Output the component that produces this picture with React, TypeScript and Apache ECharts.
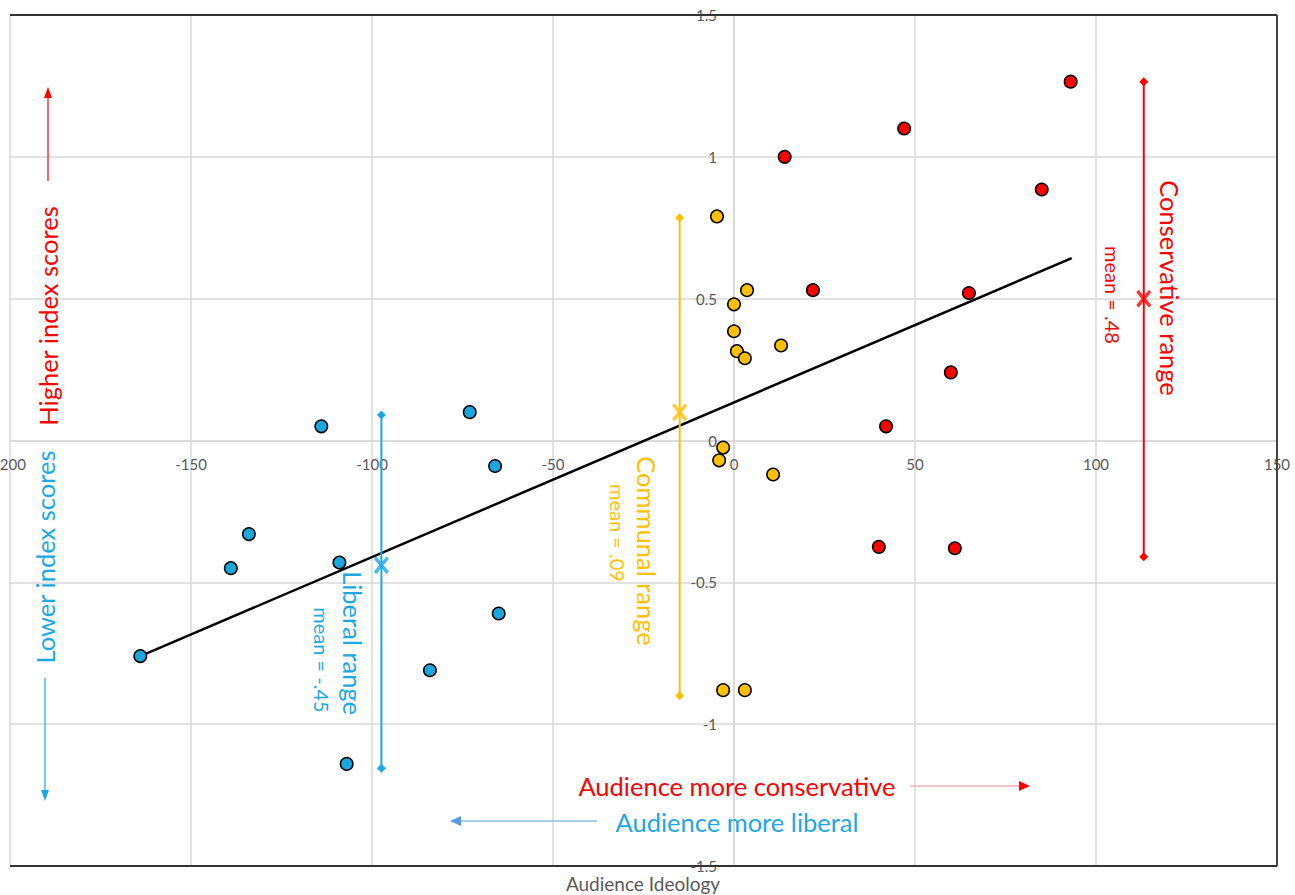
import React, { useEffect, useRef } from "react";
import * as echarts from "echarts";

const xTicks = [-200, -150, -100, -50, 0, 50, 100, 150];
const yTicks = [-1.5, -1, -0.5, 0, 0.5, 1, 1.5];

const liberalPoints = [
  [-164, -0.76], [-139, -0.45], [-134, -0.33], [-114, 0.05], [-109, -0.43],
  [-107, -1.14], [-84, -0.81], [-73, 0.1], [-66, -0.09], [-65, -0.61],
];
const communalPoints = [
  [-4.7, 0.79], [0, 0.48], [3.6, 0.53], [0, 0.385], [0.8, 0.315], [3, 0.29],
  [13, 0.335], [-3, -0.025], [-4.1, -0.07], [10.8, -0.12], [-3, -0.88], [3, -0.88],
];
const conservativePoints = [
  [14, 1.0], [47, 1.1], [93, 1.265], [85, 0.885], [21.8, 0.53], [64.9, 0.52],
  [59.9, 0.24], [42, 0.05], [40, -0.375], [61, -0.38],
];
const trendLine = [[-164, -0.76], [93.3, 0.643]];
const liberalRange = [[-97.4, 0.09], [-97.4, -1.155]];
const communalRange = [[-15, 0.785], [-15, -0.9]];
const conservativeRange = [[113.2, 1.265], [113.2, -0.41]];
const liberalMean = [[-97.4, -0.44]];
const communalMean = [[-15, 0.1]];
const conservativeMean = [[113.2, 0.5]];

const BLUE = "#1DA8E4";
const BLUE_PT = "#1CA6DE";
const YELLOW = "#FFC000";
const RED = "#FF0000";
const FONT = "Lato, 'Open Sans', sans-serif";
const X_PATH =
  "path://M0,3L3,0L10,7L17,0L20,3L13,10L20,17L17,20L10,13L3,20L0,17L7,10Z";

const W = 1295;
const H = 895;
const G_LEFT = 10;
const G_RIGHT = 18;
const G_TOP = 15;
const G_BOTTOM = 29;

export default function App() {
  const ref = useRef<HTMLDivElement>(null);
  useEffect(() => {
    if (!ref.current) return;
    const chart = echarts.init(ref.current, undefined, { renderer: "svg" });
    const gw = W - G_LEFT - G_RIGHT;
    const gh = H - G_TOP - G_BOTTOM;
    const xMin = xTicks[0];
    const xMax = xTicks[xTicks.length - 1];
    const yMin = yTicks[0];
    const yMax = yTicks[yTicks.length - 1];
    const xOffset = -(gh * (0 - yMin)) / (yMax - yMin);
    const yOffset = -(gw * (0 - xMin)) / (xMax - xMin);

    const scatter = (data: number[][], color: string) => ({
      type: "scatter",
      data,
      symbolSize: 12.5,
      z: 5,
      itemStyle: { color, borderColor: "#000", borderWidth: 1.5, opacity: 1 },
    });
    const range = (data: number[][], color: string) => ({
      type: "line",
      data,
      symbol: "diamond",
      symbolSize: 9,
      z: 4,
      lineStyle: { color, width: 2 },
      itemStyle: { color },
    });
    const mean = (data: number[][], color: string) => ({
      type: "scatter",
      data,
      symbol: X_PATH,
      symbolSize: [15, 18],
      z: 6,
      itemStyle: { color },
    });
    const vText = (
      text: string,
      x: number,
      y: number,
      color: string,
      size: number,
      rot: number
    ) => ({
      type: "text",
      x,
      y,
      rotation: rot,
      z: 100,
      style: {
        text,
        fill: color,
        font: `${size}px ${FONT}`,
        align: "center",
        verticalAlign: "middle",
      },
    });
    const line = (x1: number, y1: number, x2: number, y2: number, color: string, w = 1.2) => ({
      type: "line",
      z: 100,
      shape: { x1, y1, x2, y2 },
      style: { stroke: color, lineWidth: w },
    });
    const tri = (pts: number[][], color: string) => ({
      type: "polygon",
      z: 100,
      shape: { points: pts },
      style: { fill: color },
    });
    const axisLabel = {
      color: "#595959",
      fontSize: 15,
      fontFamily: FONT,
      margin: 16,
      showMinLabel: true,
      showMaxLabel: true,
    };
    chart.setOption({
      animation: false,
      grid: {
        left: G_LEFT,
        right: G_RIGHT,
        top: G_TOP,
        bottom: G_BOTTOM,
        containLabel: false,
        outerBoundsMode: "none",
      },
      xAxis: {
        type: "value",
        min: xMin,
        max: xMax,
        interval: 50,
        position: "bottom",
        offset: xOffset,
        axisLine: { show: true, onZero: false, lineStyle: { color: "#d9d9d9", width: 1.5 } },
        axisTick: { show: false },
        splitLine: { lineStyle: { color: "#d9d9d9", width: 1.5 } },
        axisLabel,
      },
      yAxis: {
        type: "value",
        min: yMin,
        max: yMax,
        interval: 0.5,
        position: "left",
        offset: yOffset,
        axisLine: { show: true, onZero: false, lineStyle: { color: "#d9d9d9", width: 1.5 } },
        axisTick: { show: false },
        splitLine: { lineStyle: { color: "#d9d9d9", width: 1.5 } },
        axisLabel: { ...axisLabel, margin: 17 },
      },
      series: [
        {
          type: "line",
          data: trendLine,
          symbol: "none",
          z: 3,
          lineStyle: { color: "#000", width: 2.5 },
        },
        range(liberalRange, BLUE),
        range(communalRange, YELLOW),
        range(conservativeRange, RED),
        scatter(liberalPoints, BLUE_PT),
        scatter(communalPoints, YELLOW),
        scatter(conservativePoints, RED),
        mean(liberalMean, BLUE),
        mean(communalMean, YELLOW),
        mean(conservativeMean, RED),
      ],
      graphic: [
        line(10, 15, 1277, 15, "#333", 2),
        line(1277, 15, 1277, 866, "#444", 2),
        line(10, 866, 1277, 866, "#333", 2),
        vText("Conservative range", 1170, 288, RED, 25.5, -Math.PI / 2),
        vText("mean = .48", 1113, 295, RED, 20, -Math.PI / 2),
        vText("Liberal range", 353, 643, BLUE, 25.5, -Math.PI / 2),
        vText("mean = -.45", 322, 660, BLUE, 20, -Math.PI / 2),
        vText("Communal range", 647, 551, YELLOW, 25.5, -Math.PI / 2),
        vText("mean = .09", 618, 533, YELLOW, 20, -Math.PI / 2),
        vText("Higher index scores", 48, 316, RED, 25.5, Math.PI / 2),
        vText("Lower index scores", 45, 557, BLUE, 25.5, Math.PI / 2),
        vText("Audience more conservative", 737, 786, RED, 25.5, 0),
        vText("Audience more liberal", 737, 822, BLUE, 25.5, 0),
        {
          type: "text",
          x: 643,
          y: 883,
          z: 100,
          style: {
            text: "Audience Ideology",
            fill: "#595959",
            font: `19px ${FONT}`,
            align: "center",
            verticalAlign: "middle",
          },
        },
        line(48, 181, 48, 96, RED),
        tri([[48, 87], [44, 98], [52, 98]], RED),
        line(45, 678, 45, 792, BLUE),
        tri([[45, 801], [41, 790], [49, 790]], BLUE),
        line(910, 786, 1020, 786, "#F08C8C"),
        tri([[1030, 786], [1019, 781], [1019, 791]], RED),
        line(597, 821, 460, 821, "#5B9BD5"),
        tri([[450, 821], [461, 816], [461, 826]], "#5B9BD5"),
      ],
    });
    return () => chart.dispose();
  }, []);
  return (
    <div
      ref={ref}
      style={{ position: "absolute", left: 0, top: 0, width: W, height: H }}
    />
  );
}
